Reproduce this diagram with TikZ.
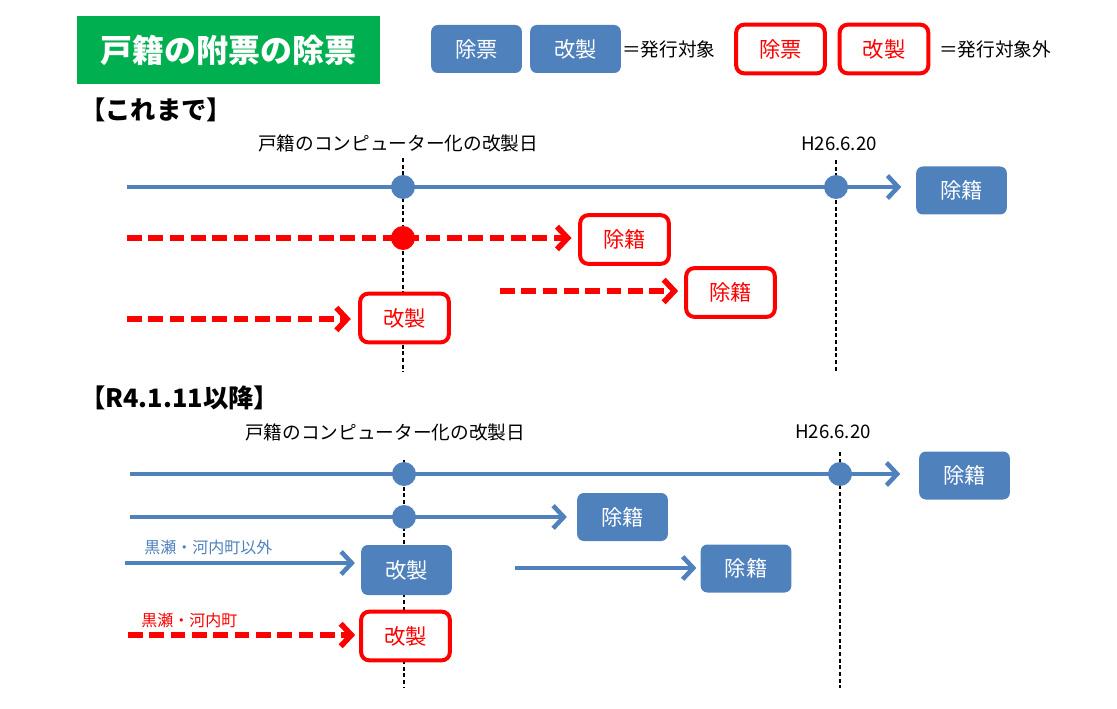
\documentclass[tikz,border=0pt]{standalone}
\usepackage{fontspec}
\setmainfont{Noto Sans CJK JP}
\usetikzlibrary{arrows.meta}
\definecolor{myblue}{HTML}{4F81BD}
\definecolor{myred}{HTML}{FF0000}
\definecolor{mygreen}{HTML}{00B050}
\begin{document}
\begin{tikzpicture}[x=0.75pt,y=-0.75pt,
  bbox/.style={rectangle, rounded corners=5pt, fill=myblue, text=white, minimum width=68pt, minimum height=36pt, inner sep=0pt, font=\fontsize{16}{16}\selectfont},
  rbox/.style={rectangle, rounded corners=6pt, draw=myred, line width=3pt, fill=white, text=myred, minimum width=66.5pt, minimum height=36.5pt, inner sep=0pt, font=\fontsize{16}{16}\selectfont},
  bline/.style={myblue, line width=3.4pt, -{Straight Barb[length=8pt,width=17pt]}},
  rline/.style={myred, line width=4.2pt, dash pattern=on 11pt off 5pt, -{Straight Barb[length=8pt,width=17pt]}},
  vdash/.style={black, line width=0.8pt, dash pattern=on 3pt off 2pt},
  bdot/.style={circle, fill=myblue, minimum size=18pt, inner sep=0pt},
  rdot/.style={circle, fill=myred, minimum size=18pt, inner sep=0pt},
  lbl/.style={font=\fontsize{14}{14}\selectfont, inner sep=0pt},
  hdr/.style={font=\fontsize{19}{20}\selectfont\bfseries, inner sep=0pt, anchor=west},
  smlbl/.style={font=\fontsize{12}{12}\selectfont, inner sep=0pt, anchor=west}
]
\useasboundingbox (0,0) rectangle (1117,709);

% title and legend
\node[fill=mygreen, minimum width=227pt, minimum height=51pt, text=white, font=\fontsize{24}{24}\selectfont\bfseries] (title) at (228.5,50) {戸籍の附票の除票};
\node[bbox] (lg1) at (476.5,49) {除票};
\node[bbox] (lg2) at (575.5,49) {改製};
\node[lbl, anchor=west] (lgt1) at (622,49) {＝発行対象};
\node[rbox] (lg3) at (780.5,49) {除票};
\node[rbox] (lg4) at (884,49) {改製};
\node[lbl, anchor=west] (lgt2) at (939,49) {＝発行対象外};

% section 1
\node[hdr] (h1) at (80,110) {【これまで】};
\node[lbl] (t1) at (398,143) {戸籍のコンピューター化の改製日};
\node[lbl] (t2) at (839,144) {H26.6.20};
\coordinate (v1a) at (403,158); \coordinate (v1b) at (403,372);
\coordinate (v2a) at (836,160); \coordinate (v2b) at (836,372);
\draw[vdash] (v1a) -- (v1b);
\draw[vdash] (v2a) -- (v2b);

\node[bbox] (j1) at (961.5,190.5) {除籍};
\node[rbox] (rj1) at (624.5,239.5) {除籍};
\node[rbox] (rj2) at (730.5,292.5) {除籍};
\node[rbox] (rk1) at (404.5,318) {改製};

\coordinate (s1) at (127,187);
\coordinate (s2) at (127,238);
\coordinate (s3) at (500,291);
\coordinate (s4) at (127,319);
\draw[bline, shorten >=11pt] (s1) -- (s1 -| j1.west);
\draw[rline, shorten >=5pt] (s2) -- (s2 -| rj1.west);
\draw[rline, shorten >=4.5pt] (s3) -- (s3 -| rj2.west);
\draw[rline, shorten >=5.5pt] (s4) -- (s4 -| rk1.west);
\node[bdot] (d1) at (403,187) {};
\node[bdot] (d2) at (836,187) {};
\node[rdot] (d3) at (403,238) {};

% section 2
\node[hdr] (h2) at (80,398) {【R4.1.11以降】};
\node[lbl] (t3) at (385,432) {戸籍のコンピューター化の改製日};
\node[lbl] (t4) at (833,432) {H26.6.20};
\coordinate (v3a) at (404,460); \coordinate (v3b) at (404,688);
\coordinate (v4a) at (840,452); \coordinate (v4b) at (840,688);
\draw[vdash] (v3a) -- (v3b);
\draw[vdash] (v4a) -- (v4b);

\node[bbox] (j2) at (964.5,475.5) {除籍};
\node[bbox] (j3) at (622.5,517) {除籍};
\node[bbox, minimum height=37.5pt] (k2) at (406.5,570) {改製};
\node[bbox] (j4) at (746,568.5) {除籍};
\node[rbox] (rk2) at (405.5,636) {改製};

\coordinate (s5) at (130,474);
\coordinate (s6) at (130,517);
\coordinate (s7) at (125,563);
\coordinate (s8) at (515,568);
\coordinate (s9) at (128,635);
\draw[bline, shorten >=14pt] (s5) -- (s5 -| j2.west);
\draw[bline, shorten >=7.5pt] (s6) -- (s6 -| j3.west);
\draw[bline, shorten >=4.5pt] (s7) -- (s7 -| k2.west);
\draw[bline, shorten >=3pt] (s8) -- (s8 -| j4.west);
\draw[rline, shorten >=3pt] (s9) -- (s9 -| rk2.west);
\node[bdot] (d4) at (404,474) {};
\node[bdot] (d5) at (840,474) {};
\node[bdot] (d6) at (404,517) {};

\node[smlbl, text=myblue] (l1) at (144,547) {黒瀬・河内町以外};
\node[smlbl, text=myred] (l2) at (141,620) {黒瀬・河内町};
\end{tikzpicture}
\end{document}
